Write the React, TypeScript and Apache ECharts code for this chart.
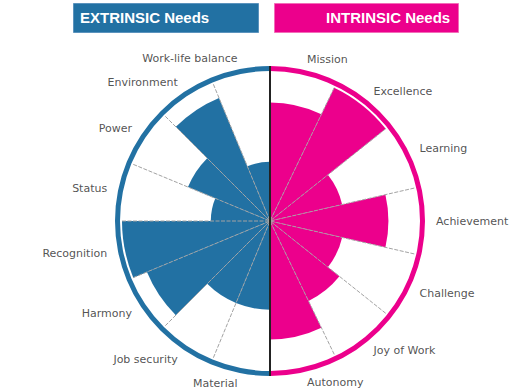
import React, { useEffect, useRef } from "react";
import * as echarts from "echarts";

const rightCats = ["Mission", "Excellence", "Learning", "Achievement", "Challenge", "Joy of Work", "Autonomy"];
const rightValues = [8, 10, 5, 8, 5, 6, 8];
const leftCats = ["Material", "Job security", "Harmony", "Recognition", "Status", "Power", "Environment", "Work-life balance"];
const leftValues = [6, 6, 9, 10, 4, 6, 9, 4];
const titles = ["EXTRINSIC Needs", "INTRINSIC Needs"];

const BLUE = "#2271a3";
const PINK = "#ec008c";
const CX = 270;
const CY = 221;

export default function App() {
  const ref = useRef<HTMLDivElement>(null);
  useEffect(() => {
    const chart = echarts.init(ref.current!, null, { renderer: "svg" });
    const rightAxisData = [...rightCats, ...rightCats.map((_, i) => "_r" + i)];
    const leftAxisData = [...leftCats, ...leftCats.map((_, i) => "_l" + i)];
    const T = "rgba(0,0,0,0)";
    const G = "#a3a3a3";
    const rightLineColors = rightAxisData.map((_, i) => (i >= 1 && i < rightCats.length ? G : T));
    const leftLineColors = leftAxisData.map((_, i) => (i >= 1 && i < leftCats.length ? G : T));

    const hiddenRadius = (idx: number) => ({
      polarIndex: idx,
      type: "value",
      min: 0,
      max: 10,
      axisLine: { show: false },
      axisTick: { show: false },
      axisLabel: { show: false },
      splitLine: { show: false },
      splitArea: { show: false },
    });
    const angle = (idx: number, data: string[], start: number, colors: string[] | null) => ({
      polarIndex: idx,
      type: "category",
      data,
      startAngle: start,
      clockwise: true,
      boundaryGap: true,
      z: 10,
      axisLine: { show: false },
      axisTick: { show: false },
      axisLabel: { show: false, interval: 0 },
      splitArea: { show: false },
      splitLine: colors
        ? { show: true, interval: 0, lineStyle: { color: colors, width: 1, type: [4, 1.5] } }
        : { show: false },
    });
    const labelStyle = {
      fontFamily: "DejaVu Sans",
      fontSize: 11,
      color: "#262626",
    };

    chart.setOption({
      animation: false,
      polar: [
        { center: [CX, CY], radius: 148 },
        { center: [CX, CY], radius: 148 },
        { center: [CX, CY], radius: 166 },
        { center: [CX, CY], radius: 166 },
      ],
      angleAxis: [
        angle(0, rightAxisData, 90, rightLineColors),
        angle(1, leftAxisData, 270, leftLineColors),
        angle(2, rightAxisData, 90, null),
        angle(3, leftAxisData, 270, null),
      ],
      radiusAxis: [hiddenRadius(0), hiddenRadius(1), hiddenRadius(2), hiddenRadius(3)],
      series: [
        {
          type: "bar",
          coordinateSystem: "polar",
          polarIndex: 0,
          data: rightValues,
          barCategoryGap: "0%",
          itemStyle: { color: PINK },
          z: 1,
        },
        {
          type: "bar",
          coordinateSystem: "polar",
          polarIndex: 1,
          data: leftValues,
          barCategoryGap: "0%",
          itemStyle: { color: BLUE },
          z: 1,
        },
        {
          type: "scatter",
          coordinateSystem: "polar",
          polarIndex: 2,
          symbolSize: 0,
          data: rightCats.map((c, i) => ({ name: c, value: [10, i] })),
          label: { show: true, position: "right", distance: 0, formatter: "{b}", ...labelStyle },
          silent: true,
        },
        {
          type: "scatter",
          coordinateSystem: "polar",
          polarIndex: 3,
          symbolSize: 0,
          data: leftCats.map((c, i) => ({ name: c, value: [10, i] })),
          label: { show: true, position: "left", distance: 0, formatter: "{b}", ...labelStyle },
          silent: true,
        },
        {
          type: "pie",
          center: [CX, CY],
          radius: [150, 155],
          startAngle: 90,
          clockwise: true,
          silent: true,
          z: 12,
          label: { show: false },
          labelLine: { show: false },
          data: [
            { name: titles[1], value: 1, itemStyle: { color: PINK } },
            { name: titles[0], value: 1, itemStyle: { color: BLUE } },
          ],
        },
      ],
      graphic: [
        {
          type: "line",
          z: 20,
          shape: { x1: CX, y1: CY - 155, x2: CX, y2: CY + 155 },
          style: { stroke: "#222", lineWidth: 2 },
        },
        {
          type: "rect",
          left: 73,
          top: 3,
          shape: { width: 185, height: 29 },
          style: { fill: BLUE, stroke: "#5b93bd", lineWidth: 1 },
        },
        {
          type: "text",
          left: 80,
          top: 10,
          style: { text: titles[0], fill: "#fff", font: "bold 15px 'Liberation Sans', Arial, sans-serif" },
        },
        {
          type: "rect",
          left: 274,
          top: 3,
          shape: { width: 184, height: 29 },
          style: { fill: PINK, stroke: "#f36cb8", lineWidth: 1 },
        },
        {
          type: "text",
          left: 326,
          top: 10,
          style: { text: titles[1], fill: "#fff", font: "bold 15px 'Liberation Sans', Arial, sans-serif" },
        },
      ],
    });
    return () => chart.dispose();
  }, []);
  return (
    <div
      ref={ref}
      style={{ position: "absolute", left: 0, top: 0, width: 528, height: 391, background: "#fff" }}
    />
  );
}
